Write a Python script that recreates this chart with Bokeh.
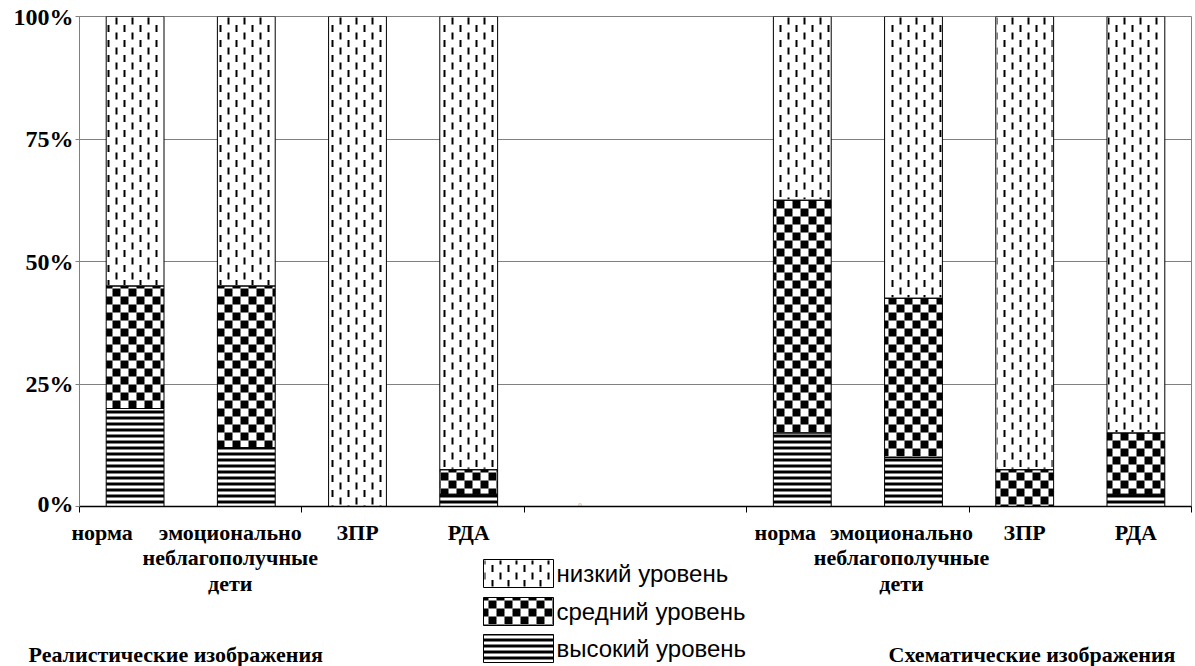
import math

from bokeh.plotting import figure
from bokeh.layouts import column
from bokeh.models import (FixedTicker, Range1d, Label, ColumnDataSource)
from bokeh.embed import file_html
from bokeh.resources import INLINE
from bokeh.core.properties import value

# ---- data ----
categories = ["норма", "эмоционально\nнеблагополучные\nдети", "ЗПР", "РДА"]
group_titles = ["Реалистические изображения", "Схематические изображения"]
level_labels = ["низкий уровень", "средний уровень", "высокий уровень"]

high_real = [20.0, 12.0, 0.0, 2.5]
mid_real = [25.0, 33.0, 0.0, 5.0]
low_real = [55.0, 55.0, 100.0, 92.5]

high_schem = [15.0, 10.0, 0.0, 2.5]
mid_schem = [47.5, 32.5, 7.5, 12.5]
low_schem = [37.5, 57.5, 92.5, 85.0]

y_ticks = [0, 25, 50, 75, 100]
y_tick_labels = ["0%", "25%", "50%", "75%", "100%"]
gap_label = "0"

# ---- slots: 4 bars, gap-label slot, empty slot, 4 bars ----
n = len(categories)
gap_slot = n
x_pos = list(range(n)) + [n + 2 + i for i in range(n)]
labels = categories + categories
high = high_real + high_schem
mid = mid_real + mid_schem
low = low_real + low_schem
mid_top = [h + m for h, m in zip(high, mid)]
low_top = [t + l for t, l in zip(mid_top, low)]

src = ColumnDataSource(dict(x=x_pos, zero=[0] * len(x_pos), high=high,
                            mid_top=mid_top, low_top=low_top))

n_slots = 2 * n + 2
SERIF = "Liberation Serif, Times New Roman, serif"
SANS = "Liberation Sans, Arial, sans-serif"

W = 1195
B_LEFT, B_RIGHT, B_TOP, B_BOTTOM = 79, 4, 16, 10
FRAME_H = 490
H1 = B_TOP + FRAME_H + B_BOTTOM
H2 = 666 - H1
X0, X1 = -0.5, n_slots - 0.5
slot_px = (W - B_LEFT - B_RIGHT) / n_slots
pct_px = FRAME_H / 100.0
bar_w = 0.52

# ---- pattern helpers (work in canvas pixels, anchored at canvas origin) ----
CHECK = 8
DASH_DX, DASH_PERIOD, DASH_LEN, DASH_W = 8, 15, 7, 2


def checker_cells(l, r, t, b):
    out = []
    for i in range(math.floor(l / CHECK), math.ceil(r / CHECK) + 1):
        for j in range(math.floor(t / CHECK), math.ceil(b / CHECK) + 1):
            if (i + j) % 2:
                continue
            cl, cr = max(l, i * CHECK), min(r, (i + 1) * CHECK)
            ct, cb = max(t, j * CHECK), min(b, (j + 1) * CHECK)
            if cr - cl > 0.3 and cb - ct > 0.3:
                out.append((cl, cr, ct, cb))
    return out


def dash_cells(l, r, t, b):
    out = []
    for k in range(math.floor(l / DASH_DX), math.ceil(r / DASH_DX) + 1):
        x = k * DASH_DX + 3
        cl, cr = max(l + 1, x), min(r - 1, x + DASH_W)
        if cr - cl < 0.5:
            continue
        phase = (k % 2) * DASH_PERIOD / 2
        m0 = math.floor((t - phase) / DASH_PERIOD) - 1
        m1 = math.ceil((b - phase) / DASH_PERIOD) + 1
        for m in range(m0, m1 + 1):
            y = phase + m * DASH_PERIOD + 2
            ct, cb = max(t + 1, y), min(b - 1, y + DASH_LEN)
            if cb - ct > 0.5:
                out.append((cl, cr, ct, cb))
    return out


# conversions between the bar plot's data space and canvas pixels
def sx(x):
    return B_LEFT + (x - X0) * slot_px


def sy(y):
    return B_TOP + (100 - y) * pct_px


def ix(px):
    return X0 + (px - B_LEFT) / slot_px


def iy(py):
    return 100 - (py - B_TOP) / pct_px


def to_quads(cells, inv_x, inv_y):
    return dict(left=[inv_x(c[0]) for c in cells],
                right=[inv_x(c[1]) for c in cells],
                top=[inv_y(c[2]) for c in cells],
                bottom=[inv_y(c[3]) for c in cells])


chk, dsh = [], []
for x, b0, b1, b2 in zip(x_pos, high, mid_top, low_top):
    l, r = sx(x - bar_w / 2), sx(x + bar_w / 2)
    if b1 > b0:
        chk += checker_cells(l, r, sy(b1), sy(b0))
    if b2 > b1:
        dsh += dash_cells(l, r, sy(b2), sy(b1))

# ---- main figure ----
p = figure(width=W, height=H1, output_backend="svg", toolbar_location=None,
           x_range=Range1d(X0, X1), y_range=Range1d(0, 100),
           min_border_left=B_LEFT, min_border_right=B_RIGHT,
           min_border_top=B_TOP, min_border_bottom=B_BOTTOM)
p.frame_align = False
p.background_fill_color = "white"
p.border_fill_color = "white"
p.outline_line_color = "#808080"

p.xgrid.grid_line_color = None
p.ygrid.ticker = FixedTicker(ticks=y_ticks)
p.ygrid.grid_line_color = "#808080"
p.ygrid.grid_line_width = 1

# bars: white base, high level with line hatch
p.vbar(x="x", bottom="zero", top="high", width=bar_w, source=src,
       fill_color="white", line_color=None, hatch_pattern="horizontal_line",
       hatch_color="black", hatch_scale=6, hatch_weight=3)
p.vbar(x="x", bottom="high", top="low_top", width=bar_w, source=src,
       fill_color="white", line_color=None)
# checker (medium) and dashes (low)
p.quad(source=ColumnDataSource(to_quads(chk, ix, iy)), left="left",
       right="right", top="top", bottom="bottom", fill_color="black",
       line_color=None)
p.quad(source=ColumnDataSource(to_quads(dsh, ix, iy)), left="left",
       right="right", top="top", bottom="bottom", fill_color="black",
       line_color=None)
# outlines of segments
for b, t in (("zero", "high"), ("high", "mid_top"), ("mid_top", "low_top")):
    p.vbar(x="x", bottom=b, top=t, width=bar_w, source=src, fill_color=None,
           line_color="black", line_width=1)

# y axis
p.yaxis.ticker = FixedTicker(ticks=y_ticks)
p.yaxis.major_label_overrides = {t: l for t, l in zip(y_ticks, y_tick_labels)}
p.yaxis.major_label_text_font = SERIF
p.yaxis.major_label_text_font_style = "bold"
p.yaxis.major_label_text_font_size = "24px"
p.yaxis.major_label_text_color = "black"
p.yaxis.axis_line_color = "#808080"
p.yaxis.major_tick_line_color = "#808080"
p.yaxis.major_tick_out = 4
p.yaxis.major_tick_in = 0
p.yaxis.minor_tick_line_color = None
p.yaxis.major_label_standoff = 2

# x axis: separating tick marks only (labels drawn in the lower panel)
boundaries = [X0 + 2 * k for k in range(n_slots // 2 + 1)]
p.xaxis.ticker = FixedTicker(ticks=x_pos, minor_ticks=boundaries)
p.xaxis.major_label_overrides = {x: "" for x in x_pos}
p.xaxis.major_label_text_font_size = "1px"
p.xaxis.major_label_standoff = 0
p.xaxis.major_tick_line_color = None
p.xaxis.major_tick_out = 0
p.xaxis.major_tick_in = 0
p.xaxis.minor_tick_out = 6
p.xaxis.minor_tick_in = 0
p.xaxis.minor_tick_line_color = "black"
p.xaxis.axis_line_color = "black"
p.xaxis.axis_line_width = 1.5

p.text(x=[gap_slot], y=[0], text=[gap_label], text_font=value(SERIF),
       text_font_size="7px", text_color="#aaaaaa", text_align="center",
       text_baseline="bottom")

# ---- lower panel: category labels, legend, group titles ----
p2 = figure(width=W, height=H2, output_backend="svg", toolbar_location=None,
            x_range=Range1d(X0 - B_LEFT / slot_px, X1 + B_RIGHT / slot_px),
            y_range=Range1d(H2, 0), x_axis_type=None, y_axis_type=None,
            min_border_left=0, min_border_right=0, min_border_top=0,
            min_border_bottom=0)
p2.frame_align = False
p2.extra_x_ranges = {"px": Range1d(0, W)}
p2.outline_line_color = None
p2.xgrid.grid_line_color = None
p2.ygrid.grid_line_color = None
p2.background_fill_color = "white"
p2.border_fill_color = "white"

label_shift = [-33, -16, 0, 0, -17, -12, 0, 0]
lsrc = ColumnDataSource(dict(x=x_pos, y=[3] * len(x_pos), text=labels,
                             dx=label_shift))
p2.text(x="x", y="y", text="text", x_offset="dx", source=lsrc,
        text_font=value(SERIF), text_font_style="bold",
        text_font_size="22px", text_color="black", text_align="center",
        text_baseline="top", text_line_height=1.03)

# legend (drawn with the same patterns as the bars)
LG_X, LG_W, LG_H = 483, 70, 28
LG_TOPS = [43, 81, 118]           # low, medium, high
sw = dict(left=[LG_X] * 3, right=[LG_X + LG_W] * 3,
          top=LG_TOPS, bottom=[t + LG_H for t in LG_TOPS])
lsw = ColumnDataSource(sw)
p2.quad(source=lsw, left="left", right="right", top="top", bottom="bottom",
        x_range_name="px", fill_color="white", line_color=None)
hs = LG_TOPS[2]
p2.quad(left=[LG_X], right=[LG_X + LG_W], top=[hs], bottom=[hs + LG_H],
        x_range_name="px", fill_color="white", line_color=None,
        hatch_pattern="horizontal_line", hatch_color="black", hatch_scale=6,
        hatch_weight=3)
leg_chk = checker_cells(LG_X, LG_X + LG_W, H1 + LG_TOPS[1], H1 + LG_TOPS[1] + LG_H)
leg_dsh = dash_cells(LG_X, LG_X + LG_W, H1 + LG_TOPS[0], H1 + LG_TOPS[0] + LG_H)
for cells in (leg_chk, leg_dsh):
    p2.quad(source=ColumnDataSource(to_quads(cells, lambda v: v,
                                             lambda v: v - H1)),
            left="left", right="right", top="top", bottom="bottom",
            x_range_name="px", fill_color="black", line_color=None)
p2.quad(source=lsw, left="left", right="right", top="top", bottom="bottom",
        x_range_name="px", fill_color=None, line_color="black", line_width=1)
p2.text(x=[LG_X + LG_W + 3] * 3, y=[t + LG_H / 2 for t in LG_TOPS],
        text=level_labels, x_range_name="px", text_font=value(SANS),
        text_font_size="24px", text_color="black", text_baseline="middle")

p2.add_layout(Label(x=28, y=138, x_units="screen", y_units="data",
                    text=group_titles[0], text_font=SERIF,
                    text_font_style="bold", text_font_size="22px",
                    text_color="black", text_baseline="alphabetic"))
p2.add_layout(Label(x=1175, y=138, x_units="screen", y_units="data",
                    text=group_titles[1], text_font=SERIF,
                    text_font_style="bold", text_font_size="22px",
                    text_color="black", text_align="right",
                    text_baseline="alphabetic"))

layout = column(p, p2, spacing=0)
open("out.html", "w").write(file_html(layout, INLINE))
